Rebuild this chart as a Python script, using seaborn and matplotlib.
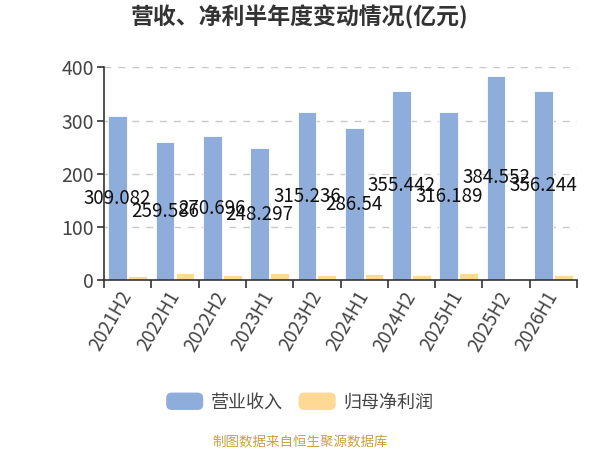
import matplotlib
matplotlib.use("Agg")
import matplotlib.pyplot as plt
import seaborn as sns
import pandas as pd
from matplotlib.patches import FancyBboxPatch, Patch
from matplotlib.legend_handler import HandlerPatch

periods = ["2021H2", "2022H1", "2022H2", "2023H1", "2023H2",
           "2024H1", "2024H2", "2025H1", "2025H2", "2026H1"]
revenue = [309.082, 259.586, 270.696, 248.297, 315.236,
           286.54, 355.442, 316.189, 384.552, 356.244]
net_profit = [8.0, 13.0, 9.5, 13.0, 10.5, 12.0, 10.0, 13.0, 3.0, 10.0]
series_names = ["营业收入", "归母净利润"]
colors = ["#8EADDA", "#FED996"]
title = "营收、净利半年度变动情况(亿元)"
source = "制图数据来自恒生聚源数据库"
yticks = [0, 100, 200, 300, 400]

df = pd.DataFrame({
    "period": periods * 2,
    "value": revenue + net_profit,
    "series": [series_names[0]] * len(periods) + [series_names[1]] * len(periods),
})

sns.set_style("white")
plt.rcParams["font.family"] = ["Noto Sans CJK SC", "DejaVu Sans"]

fig = plt.figure(figsize=(6, 4.5), dpi=100)
ax = fig.add_axes([0.1733, 0.3771, 0.9617 - 0.1733, 0.8504 - 0.3771])

sns.barplot(data=df, x="period", y="value", hue="series", palette=colors,
            width=0.84, gap=0.06, ax=ax, edgecolor="white", linewidth=0.6,
            saturation=1)
ax.get_legend().remove()

ax.bar_label(ax.containers[0], labels=[f"{v:g}" for v in revenue],
             label_type="center", fontsize=13.5, color="#111111")

ax.set_xlim(-0.5, len(periods) - 0.5)
ax.set_ylim(0, 400)
ax.set_yticks(yticks)
ax.set_xlabel("")
ax.set_ylabel("")
for y in yticks[1:]:
    ax.axhline(y, color="#c8c8c8", lw=1, ls=(0, (5, 5)), zorder=0)

for s in ["top", "right"]:
    ax.spines[s].set_visible(False)
for s in ["left", "bottom"]:
    ax.spines[s].set_color("#333333")
    ax.spines[s].set_linewidth(1.2)

ax.tick_params(axis="y", which="major", left=True, length=5, width=1.2,
               color="#333333", labelsize=14, labelcolor="#444444", pad=2)
ax.set_xticks(range(len(periods)))
ax.set_xticklabels(periods, rotation=60, ha="right", va="center",
                   rotation_mode="anchor", fontsize=13.5, color="#444444")
ax.tick_params(axis="x", which="major", length=0, pad=9)
ax.set_xticks([i - 0.5 for i in range(len(periods) + 1)], minor=True)
ax.tick_params(axis="x", which="minor", bottom=True, length=6, width=1.2,
               color="#333333")

fig.text(0.5, 1 - 17.5 / 450, title, ha="center", va="center",
         fontsize=16.5, fontweight="bold", color="#333333")
fig.text(0.5, 1 - 442 / 450, source, ha="center", va="center",
         fontsize=9.7, color="#C9A13E")


class RoundHandler(HandlerPatch):
    def create_artists(self, legend, orig_handle, xdescent, ydescent,
                       width, height, fontsize, trans):
        p = FancyBboxPatch((-xdescent, -ydescent), width, height,
                           boxstyle="round,pad=0,rounding_size=4",
                           facecolor=orig_handle.get_facecolor(),
                           edgecolor="none", transform=trans)
        return [p]


handles = [Patch(facecolor=c) for c in colors]
fig.legend(handles, series_names, loc="center",
           bbox_to_anchor=(0.5, 1 - 402 / 450), ncol=2, frameon=False,
           fontsize=13, handlelength=2.05, handleheight=1.1,
           handletextpad=0.45, columnspacing=0.85, labelcolor="#444444",
           handler_map={Patch: RoundHandler()})

fig.savefig("out.png", dpi=100)
